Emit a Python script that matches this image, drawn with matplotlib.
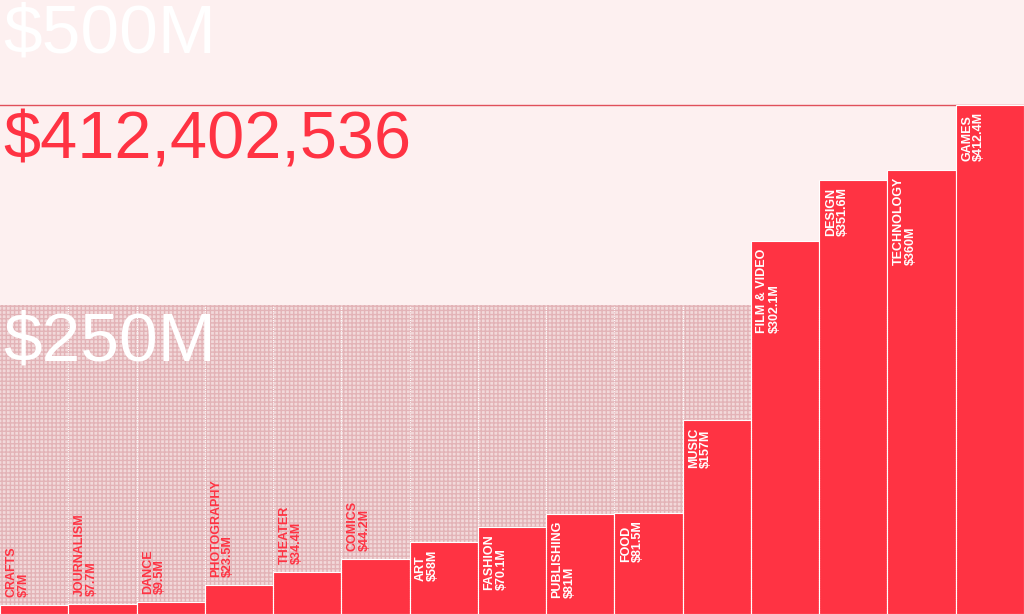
import numpy as np
import matplotlib
matplotlib.use("Agg")
import matplotlib.pyplot as plt

categories = ["CRAFTS", "JOURNALISM", "DANCE", "PHOTOGRAPHY", "THEATER", "COMICS", "ART",
              "FASHION", "PUBLISHING", "FOOD", "MUSIC", "FILM & VIDEO", "DESIGN",
              "TECHNOLOGY", "GAMES"]
values = [7, 7.7, 9.5, 23.5, 34.4, 44.2, 58, 70.1, 81, 81.5, 157, 302.1, 351.6, 360, 412.4]
value_labels = ["$7M", "$7.7M", "$9.5M", "$23.5M", "$34.4M", "$44.2M", "$58M", "$70.1M",
                "$81M", "$81.5M", "$157M", "$302.1M", "$351.6M", "$360M", "$412.4M"]
total_label = "$412,402,536"

RED = "#ff3343"
BG = "#fdf0f0"
plt.rcParams['font.family'] = ['Liberation Sans', 'DejaVu Sans']

fig = plt.figure(figsize=(10.24, 6.14), dpi=100, facecolor=BG)
ax = fig.add_axes([0, 0, 1, 1])
ax.set_facecolor(BG)
n = len(values)
ymax = 614 / 1.2342
ax.set_xlim(0, n)
ax.set_ylim(0, ymax)
ax.axis("off")

# dotted band below $250M
ax.fill_between([0, n], 0, 250, facecolor="#f2d9da", edgecolor="#e3b3b7",
                hatch="++++", linewidth=0, zorder=0)
ax.axhline(412.4, color="#e0505a", lw=1, zorder=1)

x = np.arange(n)
ax.bar(x, values, width=1, align="edge", color=RED, edgecolor="white", lw=0.8, zorder=2)
for xi in x[1:]:
    ax.plot([xi, xi], [0, 250], color="white", lw=0.8, ls=(0, (1, 1)), zorder=3)

ppu = 1.2342  # pixels per $M
for i, (c, v, lab) in enumerate(zip(categories, values, value_labels)):
    txt = c + "\n" + lab
    if v < 50:
        ax.text(i + 0.08, v + 8 / ppu, txt, rotation=90, ha="left", va="bottom",
                color=RED, fontsize=9, fontweight="bold", linespacing=1.0, zorder=4)
    else:
        ax.text(i + 0.08, v - 7 / ppu, txt, rotation=90, ha="left", va="top",
                color="white", fontsize=9, fontweight="bold", linespacing=1.0, zorder=4)

ax.text(0.05, 500 - 6 / ppu, "$500M", color="white", fontsize=50, ha="left", va="top",
        zorder=5)
ax.text(0.05, 412.4 - 5 / ppu, total_label, color=RED, fontsize=48, ha="left", va="top",
        zorder=5)
ax.text(0.05, 250 - 5 / ppu, "$250M", color="white", fontsize=50, ha="left", va="top",
        zorder=5)

fig.savefig("out.png", dpi=100, facecolor=BG)
